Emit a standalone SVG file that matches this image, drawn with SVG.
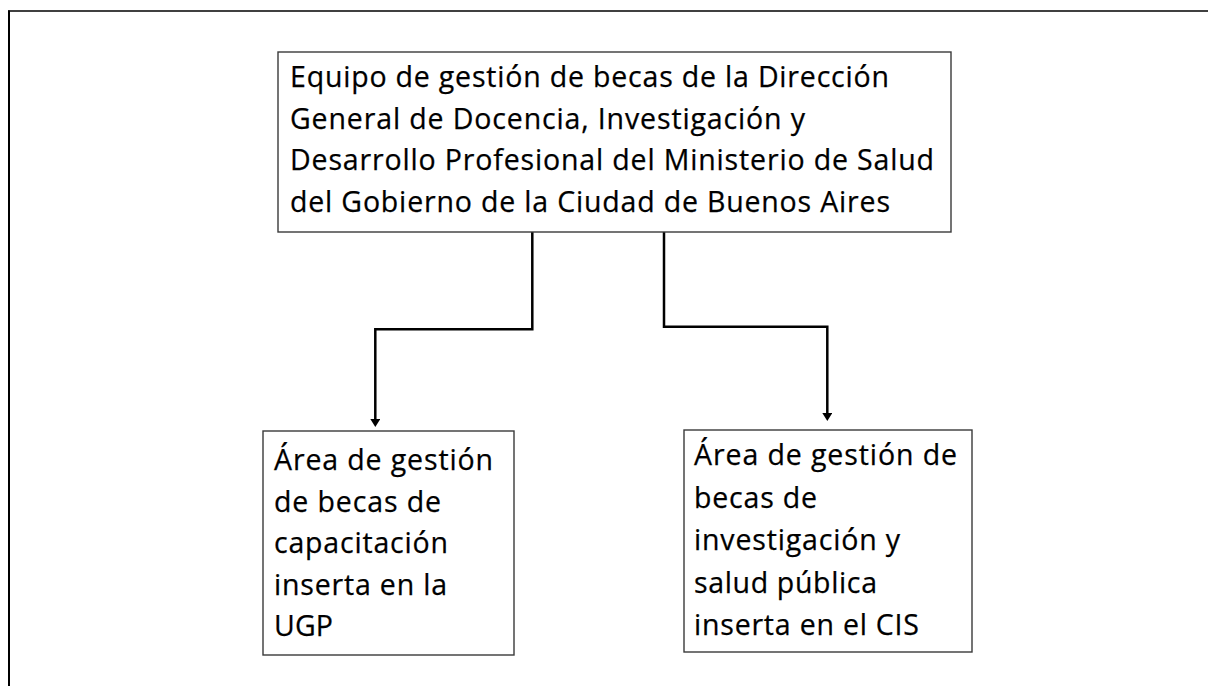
<svg xmlns="http://www.w3.org/2000/svg" width="1208" height="686" viewBox="0 0 1208 686">
<style>
.box{fill:#ffffff;stroke:#3a3a3a;stroke-width:1.4}
.txt{font-family:"Open Sans","Noto Sans","Liberation Sans",sans-serif;font-size:28.5px;fill:#000000;stroke:#000000;stroke-width:0.25}
.conn{fill:none;stroke:#000000;stroke-width:2.5}
.frame{stroke:#000000;fill:none}
</style>
<defs>
<marker id="arrow" markerUnits="userSpaceOnUse" markerWidth="9" markerHeight="10" refX="0" refY="5" orient="auto" viewBox="0 0 9 10">
<path d="M0,0 L8,5 L0,10 z" fill="#000000"/>
</marker>
</defs>
<rect x="0" y="0" width="1208" height="686" fill="#ffffff"/>
<g id="frame">
<line class="frame" x1="8" y1="11" x2="1208" y2="11" stroke-width="1.5"/>
<line class="frame" x1="9" y1="10.5" x2="9" y2="686" stroke-width="2"/>
</g>
<g id="connectors">
<path class="conn" d="M532.3 232 V329.3 H375.3 V419" marker-end="url(#arrow)"/>
<path class="conn" d="M664 232 V326.7 H827.3 V413" marker-end="url(#arrow)"/>
</g>
<g id="node-equipo">
<rect class="box" x="278" y="52" width="673" height="180"/>
<text class="txt" x="290" y="87" textLength="599" lengthAdjust="spacing">Equipo de gestión de becas de la Dirección</text>
<text class="txt" x="290" y="128.5" textLength="515" lengthAdjust="spacing">General de Docencia, Investigación y</text>
<text class="txt" x="290" y="170" textLength="644" lengthAdjust="spacing">Desarrollo Profesional del Ministerio de Salud</text>
<text class="txt" x="290" y="211.5" textLength="600" lengthAdjust="spacing">del Gobierno de la Ciudad de Buenos Aires</text>
</g>
<g id="node-capacitacion">
<rect class="box" x="263" y="431" width="251" height="224"/>
<text class="txt" x="274" y="470" textLength="219" lengthAdjust="spacing">Área de gestión</text>
<text class="txt" x="274" y="511.5" textLength="167" lengthAdjust="spacing">de becas de</text>
<text class="txt" x="274" y="553" textLength="174" lengthAdjust="spacing">capacitación</text>
<text class="txt" x="274" y="594.5" textLength="173" lengthAdjust="spacing">inserta en la</text>
<text class="txt" x="274" y="636" textLength="59" lengthAdjust="spacing">UGP</text>
</g>
<g id="node-investigacion">
<rect class="box" x="684" y="430" width="288" height="222"/>
<text class="txt" x="694" y="465" textLength="263" lengthAdjust="spacing">Área de gestión de</text>
<text class="txt" x="694" y="507.5" textLength="123" lengthAdjust="spacing">becas de</text>
<text class="txt" x="694" y="550" textLength="206" lengthAdjust="spacing">investigación y</text>
<text class="txt" x="694" y="592.5" textLength="183" lengthAdjust="spacing">salud pública</text>
<text class="txt" x="694" y="635" textLength="225" lengthAdjust="spacing">inserta en el CIS</text>
</g>
</svg>
